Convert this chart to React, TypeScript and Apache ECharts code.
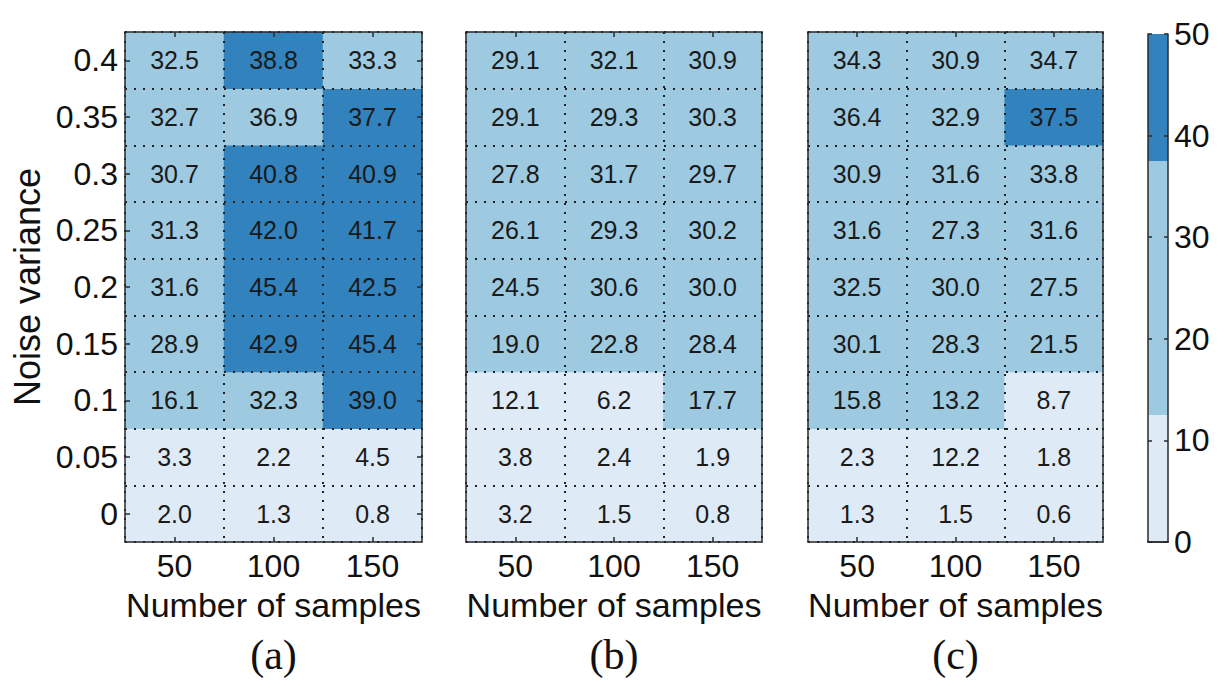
import React, { useEffect, useRef } from "react";
import * as echarts from "echarts";

const xCategories = ["50", "100", "150"];
const yCategories = ["0", "0.05", "0.1", "0.15", "0.2", "0.25", "0.3", "0.35", "0.4"];

// rows listed from bottom (0) to top (0.4); each row: [50, 100, 150]
const panelA = [
  [2.0, 1.3, 0.8],
  [3.3, 2.2, 4.5],
  [16.1, 32.3, 39.0],
  [28.9, 42.9, 45.4],
  [31.6, 45.4, 42.5],
  [31.3, 42.0, 41.7],
  [30.7, 40.8, 40.9],
  [32.7, 36.9, 37.7],
  [32.5, 38.8, 33.3],
];
const panelB = [
  [3.2, 1.5, 0.8],
  [3.8, 2.4, 1.9],
  [12.1, 6.2, 17.7],
  [19.0, 22.8, 28.4],
  [24.5, 30.6, 30.0],
  [26.1, 29.3, 30.2],
  [27.8, 31.7, 29.7],
  [29.1, 29.3, 30.3],
  [29.1, 32.1, 30.9],
];
const panelC = [
  [1.3, 1.5, 0.6],
  [2.3, 12.2, 1.8],
  [15.8, 13.2, 8.7],
  [30.1, 28.3, 21.5],
  [32.5, 30.0, 27.5],
  [31.6, 27.3, 31.6],
  [30.9, 31.6, 33.8],
  [36.4, 32.9, 37.5],
  [34.3, 30.9, 34.7],
];
const panelTitles = ["(a)", "(b)", "(c)"];
const colorBreaks = [0, 12.5, 37.5, 50];
const colorTicks = [0, 10, 20, 30, 40, 50];
const colors = ["#deebf7", "#9ecae1", "#3182bd"];

const FONT = "'Liberation Sans', Arial, Helvetica, sans-serif";
const AXIS_COLOR = "#2a2a2a";

const grids = [
  { left: 125, width: 297, top: 32, height: 510 },
  { left: 466, width: 296, top: 32, height: 510 },
  { left: 808, width: 295, top: 32, height: 510 },
];
const cbGrid = { left: 1148, width: 20, top: 34, height: 508 };

function toData(rows: number[][]) {
  const out: number[][] = [];
  rows.forEach((row, yi) => row.forEach((v, xi) => out.push([xi, yi, v])));
  return out;
}

export default function App() {
  const ref = useRef<HTMLDivElement>(null);
  useEffect(() => {
    if (!ref.current) return;
    const chart = echarts.init(ref.current, null, { renderer: "svg" });
    const panels = [panelA, panelB, panelC];
    const xAxis: any[] = [];
    const yAxis: any[] = [];
    const series: any[] = [];
    const dotted = { show: true, lineStyle: { color: "#222", width: 2, type: [2, 7] } };
    panels.forEach((p, i) => {
      xAxis.push({
        type: "category", gridIndex: i, data: xCategories, position: "bottom", z: 5,
        axisLine: { show: true, lineStyle: { color: AXIS_COLOR, width: 1.5 } },
        axisTick: { show: true, inside: true, alignWithLabel: true, length: 5, lineStyle: { color: AXIS_COLOR, width: 1.5 } },
        axisLabel: { fontSize: 32, color: "#111", fontFamily: FONT, margin: 8 },
        splitLine: dotted,
        name: "Number of samples", nameLocation: "middle", nameGap: 46,
        nameTextStyle: { fontSize: 34, color: "#111", fontFamily: FONT },
      });
      xAxis.push({
        type: "category", gridIndex: i, data: xCategories, position: "top", z: 5,
        axisLine: { show: true, lineStyle: { color: AXIS_COLOR, width: 1.5 } },
        axisTick: { show: true, inside: true, alignWithLabel: true, length: 5, lineStyle: { color: AXIS_COLOR, width: 1.5 } },
        axisLabel: { show: false }, splitLine: { show: false },
      });
      yAxis.push({
        type: "category", gridIndex: i, data: yCategories, position: "left", z: 5,
        axisLine: { show: true, lineStyle: { color: AXIS_COLOR, width: 1.5 } },
        axisTick: { show: i === 0, inside: true, alignWithLabel: true, length: 5, lineStyle: { color: AXIS_COLOR, width: 1.5 } },
        axisLabel: { show: i === 0, fontSize: 32, color: "#111", fontFamily: FONT, margin: 7 },
        splitLine: dotted,
        name: i === 0 ? "Noise variance" : "", nameLocation: "middle", nameGap: 80, nameRotate: 90,
        nameTextStyle: { fontSize: 36, color: "#111", fontFamily: FONT },
      });
      yAxis.push({
        type: "category", gridIndex: i, data: yCategories, position: "right", z: 5,
        axisLine: { show: true, lineStyle: { color: AXIS_COLOR, width: 1.5 } },
        axisTick: { show: i === 0, inside: true, alignWithLabel: true, length: 5, lineStyle: { color: AXIS_COLOR, width: 1.5 } },
        axisLabel: { show: false }, splitLine: { show: false },
      });
      series.push({
        type: "heatmap", xAxisIndex: 2 * i, yAxisIndex: 2 * i, data: toData(p),
        label: {
          show: true, fontSize: 25, color: "#1a1a1a", fontFamily: FONT,
          formatter: (d: any) => Number(d.value[2]).toFixed(1),
        },
        itemStyle: { borderWidth: 0 },
        emphasis: { disabled: true },
      });
    });
    // colorbar grid (index 3)
    xAxis.push({
      type: "category", gridIndex: 3, data: [""], position: "bottom", z: 5,
      axisLine: { show: true, lineStyle: { color: AXIS_COLOR, width: 1.5 } },
      axisTick: { show: false }, axisLabel: { show: false },
    });
    xAxis.push({
      type: "category", gridIndex: 3, data: [""], position: "top", z: 5,
      axisLine: { show: true, lineStyle: { color: AXIS_COLOR, width: 1.5 } },
      axisTick: { show: false }, axisLabel: { show: false },
    });
    yAxis.push({
      type: "value", gridIndex: 3, min: 0, max: 50, interval: 10, position: "right", z: 5,
      axisLine: { show: true, lineStyle: { color: AXIS_COLOR, width: 1.5 } },
      axisTick: { show: true, inside: true, length: 4, lineStyle: { color: AXIS_COLOR, width: 1.5 } },
      axisLabel: {
        fontSize: 32, color: "#111", fontFamily: FONT, margin: 6,
        formatter: (v: number) => (colorTicks.includes(v) ? String(v) : ""),
      },
      splitLine: { show: false },
    });
    yAxis.push({
      type: "value", gridIndex: 3, min: 0, max: 50, interval: 10, position: "left", z: 5,
      axisLine: { show: true, lineStyle: { color: AXIS_COLOR, width: 1.5 } },
      axisTick: { show: true, inside: true, length: 4, lineStyle: { color: AXIS_COLOR, width: 1.5 } },
      axisLabel: { show: false }, splitLine: { show: false },
    });
    for (let k = 0; k < colors.length; k++) {
      series.push({
        type: "bar", xAxisIndex: 6, yAxisIndex: 6, stack: "cb", barWidth: "100%",
        data: [colorBreaks[k + 1] - colorBreaks[k]],
        itemStyle: { color: colors[k] },
        silent: true,
      });
    }
    const graphic = panelTitles.map((t, i) => ({
      type: "text",
      x: grids[i].left + grids[i].width / 2,
      y: 655,
      style: {
        text: t, fontSize: 42, fontFamily: "'Liberation Serif', 'Times New Roman', serif",
        fill: "#111", textAlign: "center", textVerticalAlign: "middle",
      },
    }));
    chart.setOption({
      animation: false,
      backgroundColor: "#ffffff",
      grid: [...grids, cbGrid].map((g) => ({ ...g, containLabel: false })),
      xAxis,
      yAxis,
      visualMap: {
        type: "piecewise", show: false, seriesIndex: [0, 1, 2], dimension: 2,
        pieces: [
          { gte: colorBreaks[0], lt: colorBreaks[1], color: colors[0] },
          { gte: colorBreaks[1], lt: colorBreaks[2], color: colors[1] },
          { gte: colorBreaks[2], lte: colorBreaks[3], color: colors[2] },
        ],
      },
      series,
      graphic,
    });
    return () => chart.dispose();
  }, []);
  return (
    <div
      ref={ref}
      style={{ position: "fixed", left: 0, top: 0, width: 1226, height: 696 }}
    />
  );
}
